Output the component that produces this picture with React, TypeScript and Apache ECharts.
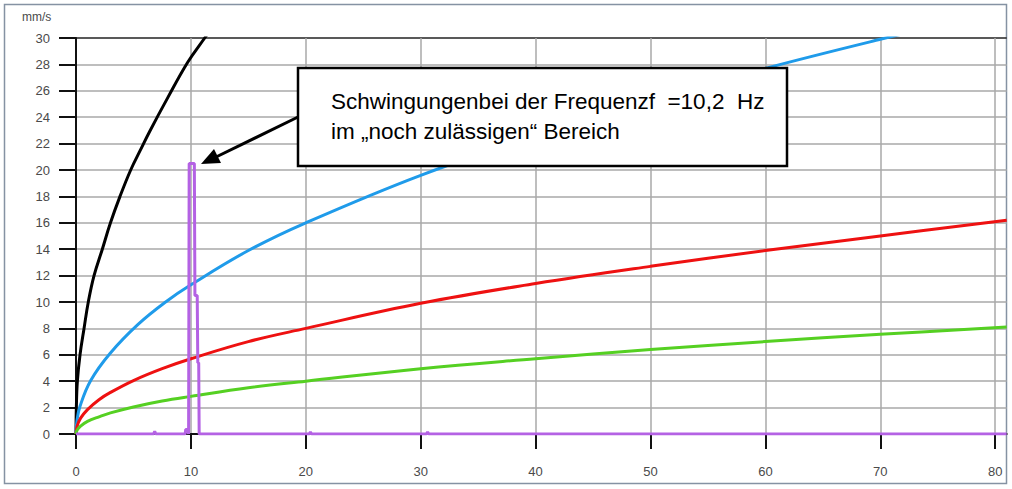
import React, { useEffect, useRef } from "react";
import * as echarts from "echarts";

// Frequency (Hz) / velocity (mm/s) pairs
const blackF = [0, 0.03, 0.12, 0.35, 0.7, 1.07, 1.57, 2.29, 3.0, 3.83, 4.76, 5.6, 6.4, 8, 9.75, 11.2, 12];
const blackV = [0, 2, 4, 6, 8, 10, 12, 14, 16, 18, 20, 21.5, 22.9, 25.5, 28.2, 30, 31];

const blueF = [0, 0.08, 0.35, 1.28, 2.96, 5.4, 7.8, 10, 15, 20, 30, 40, 50, 60, 70, 81];
const blueV = [0, 1, 2.1, 4.05, 6.1, 8.3, 10, 11.3, 13.9, 16.0, 19.6, 22.6, 25.3, 27.7, 29.9, 32.2];

const redF = [0, 0.1, 0.4, 1, 2, 3, 5, 7.5, 10, 15, 20, 30, 40, 50, 60, 70, 81];
const redV = [0, 0.6, 1.2, 1.85, 2.6, 3.15, 4.05, 4.95, 5.7, 7.0, 8.0, 9.9, 11.4, 12.7, 13.9, 15.0, 16.2];

const greenF = [0, 0.1, 0.4, 1, 2, 3, 5, 7.5, 10, 15, 20, 30, 40, 50, 60, 70, 81];
const greenV = [0, 0.3, 0.6, 0.95, 1.3, 1.6, 2.05, 2.5, 2.85, 3.5, 4.0, 4.95, 5.7, 6.4, 7.0, 7.55, 8.1];

const purpleF = [0, 6.75, 6.85, 6.95, 9.5, 9.55, 9.75, 9.8, 9.85, 10.3, 10.35, 10.55, 10.6, 10.68, 10.72, 20.3, 20.4, 20.5, 30.5, 30.6, 30.7, 81];
const purpleV = [0, 0, 0.2, 0, 0, 0.35, 0.35, 0, 20.5, 20.5, 10.5, 10.5, 5.4, 5.4, 0, 0, 0.15, 0, 0, 0.15, 0, 0];

const xTicks = [0, 10, 20, 30, 40, 50, 60, 70, 80];
const yUnit = "mm/s";
const noteLine1 = "Schwingungenbei der Frequenzf  =10,2  Hz";
const noteLine2 = "im \u201enoch zul\u00e4ssigen\u201c Bereich";

const pairs = (xs: number[], ys: number[]) => xs.map((x, i) => [x, ys[i]]);

export default function App() {
  const ref = useRef<HTMLDivElement>(null);
  useEffect(() => {
    if (!ref.current) return;
    const chart = echarts.init(ref.current, null, { renderer: "svg" });
    const splitColors = Array.from({ length: 16 }, (_, i) => (i === 15 ? "#222" : "#a9a9a9"));
    const font = "Liberation Sans, Arial, sans-serif";
    const lineSeries = (data: number[][], color: string, z: number, smooth = true) => ({
      type: "line",
      data,
      showSymbol: false,
      smooth: smooth ? 0.4 : false,
      clip: true,
      z,
      lineStyle: { color, width: 3 },
    });
    chart.setOption({
      animation: false,
      backgroundColor: "#fff",
      textStyle: { fontFamily: font },
      grid: { left: 76, top: 38, right: 5.3, bottom: 55, containLabel: false },
      xAxis: {
        type: "value",
        min: 0,
        max: 81,
        interval: 10,
        axisLine: { lineStyle: { color: "#111", width: 2 } },
        axisTick: { show: true, length: 15, customValues: xTicks, lineStyle: { color: "#111", width: 2 } },
        axisLabel: { customValues: xTicks, margin: 31, fontSize: 13, color: "#4a4a4a" },
        splitLine: { show: true, lineStyle: { color: "#a9a9a9", width: 1.5 } },
      },
      yAxis: {
        type: "value",
        min: 0,
        max: 30,
        interval: 2,
        axisLine: { show: true, lineStyle: { color: "#111", width: 2 } },
        axisTick: { show: true, length: 17, lineStyle: { color: "#111", width: 2 } },
        axisLabel: { margin: 26, fontSize: 13, color: "#4a4a4a" },
        splitLine: { show: true, lineStyle: { color: splitColors, width: 1.5 } },
      },
      series: [
        lineSeries(pairs(blackF, blackV), "#000000", 3),
        lineSeries(pairs(blueF, blueV), "#1f9bea", 3),
        lineSeries(pairs(redF, redV), "#ee1111", 3),
        lineSeries(pairs(greenF, greenV), "#55d022", 3),
        lineSeries(pairs(purpleF, purpleV), "#b462e4", 4, false),
      ],
      graphic: [
        {
          type: "rect",
          shape: { x: 4.5, y: 4.5, width: 1002, height: 479 },
          style: { fill: "none", stroke: "#8592a3", lineWidth: 1.5 },
          z: 0,
          silent: true,
        },
        {
          type: "text",
          x: 22,
          y: 17,
          style: { text: yUnit, fontSize: 12, fill: "#4a4a4a", verticalAlign: "middle", fontFamily: font },
          z: 10,
        },
        {
          type: "rect",
          shape: { x: 298, y: 68, width: 489, height: 98 },
          style: { fill: "#fff", stroke: "#000", lineWidth: 2.5 },
          z: 20,
        },
        {
          type: "text",
          x: 331,
          y: 101,
          style: { text: noteLine1, fontSize: 22.5, fill: "#000", verticalAlign: "middle", fontFamily: font },
          z: 21,
        },
        {
          type: "text",
          x: 331,
          y: 131,
          style: { text: noteLine2, fontSize: 22.5, fill: "#000", verticalAlign: "middle", fontFamily: font },
          z: 21,
        },
        {
          type: "line",
          shape: { x1: 298, y1: 117, x2: 214, y2: 158 },
          style: { stroke: "#000", lineWidth: 3 },
          z: 21,
        },
        {
          type: "polygon",
          shape: { points: [[201, 164], [221, 163], [214, 149]] },
          style: { fill: "#000" },
          z: 21,
        },
      ],
    });
    return () => chart.dispose();
  }, []);
  return (
    <div
      ref={ref}
      style={{ position: "fixed", left: 0, top: 0, width: 1012, height: 489 }}
    />
  );
}
